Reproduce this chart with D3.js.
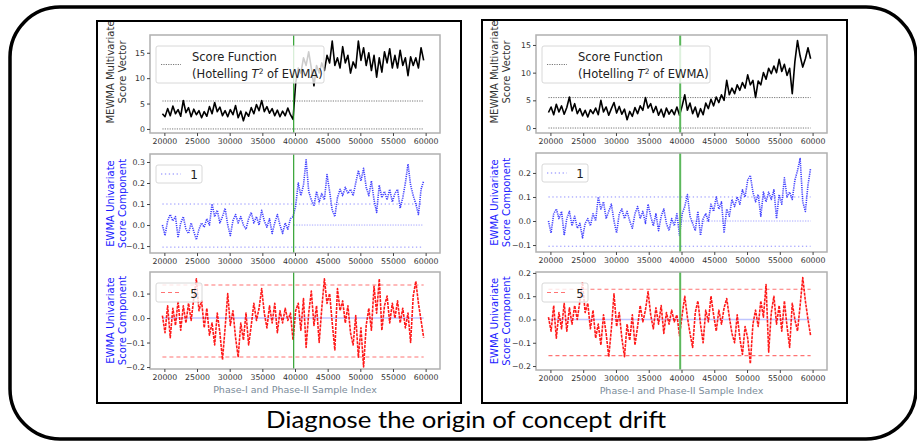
<!DOCTYPE html>
<html>
<head>
<meta charset="utf-8">
<script src="https://cdn.jsdelivr.net/npm/d3@7"></script>
<style>
  body { margin: 0; background: #fff; }
  svg { display: block; }
  .tick text { font-family: "DejaVu Sans", sans-serif; fill: #333; }
  .tick line { stroke: #444; }
</style>
</head>
<body>
<script>
// sample index of the first point and spacing between points
const sampleStart = 19700;
const sampleStep = 400;
const changePoint = 39800;

const xTicks = [20000, 25000, 30000, 35000, 40000, 45000, 50000, 55000, 60000];
const t2Ticks = [0, 5, 10, 15];
const comp1TicksLeft = [-0.1, 0.0, 0.1, 0.2, 0.3];
const comp1TicksRight = [-0.1, 0.0, 0.1, 0.2];
const comp5TicksLeft = [-0.2, -0.1, 0.0, 0.1];
const comp5TicksRight = [-0.2, -0.1, 0.0, 0.1, 0.2];

// control limits
const t2Limits = [0, 5.5];
const comp1Limits = [-0.105, 0.1];
const comp5LimitsLeft = [-0.159, 0.135];
const comp5LimitsRight = [-0.155, 0.13];

// MEWMA score (Hotelling T^2 of EWMA)
const leftT2 = [3.0, 2.4, 4.0, 2.6, 4.5, 3.0, 3.8, 2.5, 5.6, 3.2, 4.2, 2.4, 3.9, 2.8, 3.6, 2.2, 3.4, 2.5, 4.4, 3.0,
  5.2, 3.4, 4.3, 2.6, 3.6, 2.4, 3.8, 2.8, 4.6, 2.2, 3.5, 1.6, 3.3, 2.5, 4.2, 3.0, 4.8, 3.6, 5.6, 3.4,
  4.4, 3.1, 4.0, 2.6, 3.7, 2.4, 3.5, 2.6, 4.1, 2.8, 1.9,
  9.0, 12.0, 11.0, 14.0, 12.5, 15.2, 12.0, 8.5, 12.5, 11.0, 13.0, 11.5, 14.5, 13.0, 17.3, 12.5, 14.0, 12.0, 16.2, 13.0,
  14.5, 11.0, 13.2, 12.0, 17.3, 13.5, 16.0, 12.5, 15.0, 11.5, 14.5, 10.2, 14.0, 11.2, 15.2, 13.0, 15.8, 12.0, 14.5, 12.0,
  15.5, 12.5, 14.0, 10.5, 14.2, 12.5, 14.0, 12.0, 16.0, 13.5];
const rightT2 = [2.8, 3.8, 2.4, 4.3, 2.9, 4.0, 2.5, 3.7, 5.6, 3.1, 4.4, 2.6, 3.5, 2.2, 3.2, 2.0, 3.3, 2.6, 3.6, 2.4,
  5.0, 2.9, 3.8, 2.3, 3.5, 4.6, 2.7, 3.9, 2.5, 3.4, 1.5, 3.0, 2.1, 3.7, 2.6, 4.0, 3.2, 5.5, 3.6, 4.4,
  2.8, 3.9, 2.3, 3.4, 2.0, 3.6, 2.5, 3.3, 2.4, 3.8, 2.3,
  4.0, 6.0, 3.2, 4.5, 2.6, 3.8, 2.0, 3.5, 2.4, 4.5, 3.5, 5.2, 4.0, 5.6, 4.6, 6.0, 5.0, 8.6, 6.0, 7.2,
  6.2, 7.8, 6.8, 8.2, 7.2, 9.6, 7.8, 8.6, 5.5, 8.5, 7.8, 10.0, 8.8, 10.8, 9.8, 11.2, 10.0, 12.4, 10.2, 11.5,
  9.5, 10.8, 6.2, 12.0, 15.8, 13.0, 11.0, 12.5, 14.5, 12.5];

// EWMA univariate score, component 1
const leftComp1 = [0.00, -0.05, 0.02, 0.05, 0.02, 0.04, -0.06, 0.01, 0.04, -0.02, -0.04, 0.01, -0.03, -0.07, -0.02, 0.01, -0.01, 0.03, 0.00, 0.10,
  0.04, 0.07, 0.01, 0.04, 0.08, 0.00, -0.05, 0.02, 0.05, 0.01, 0.04, 0.00, -0.02, 0.03, 0.06, 0.01, 0.04, 0.00, 0.07, 0.02,
  -0.01, 0.03, -0.04, 0.01, 0.05, 0.00, -0.04, 0.01, -0.02, 0.03, 0.04,
  0.09, 0.20, 0.14, 0.19, 0.31, 0.16, 0.12, 0.09, 0.16, 0.11, 0.15, 0.12, 0.24, 0.16, 0.07, 0.04, 0.13, 0.17, 0.14, 0.18,
  0.15, 0.17, 0.14, 0.20, 0.26, 0.21, 0.27, 0.18, 0.14, 0.21, 0.12, 0.06, 0.19, 0.13, 0.16, 0.12, 0.17, 0.11, 0.15, 0.17,
  0.08, 0.13, 0.20, 0.29, 0.19, 0.14, 0.10, 0.05, 0.17, 0.21];
const rightComp1 = [0.00, -0.05, 0.03, 0.05, 0.01, 0.04, -0.06, 0.01, 0.04, -0.02, 0.02, -0.03, -0.01, -0.07, -0.01, 0.01, -0.02, 0.03, 0.00, 0.10,
  0.05, 0.08, 0.01, 0.04, 0.07, 0.00, -0.05, 0.03, 0.05, 0.01, 0.04, 0.00, -0.03, 0.03, 0.06, 0.01, 0.04, -0.01, 0.07, 0.02,
  -0.02, 0.03, -0.04, 0.02, 0.05, -0.01, -0.04, 0.01, -0.02, 0.03, -0.06,
  0.03, 0.06, 0.11, 0.02, -0.01, -0.04, 0.04, -0.06, 0.01, 0.03, 0.00, 0.07, 0.04, 0.10, 0.05, 0.08, -0.05, 0.05, 0.02, 0.09,
  0.06, 0.10, 0.07, 0.13, 0.10, 0.17, 0.19, 0.12, 0.08, 0.11, 0.02, 0.12, 0.08, 0.12, 0.09, 0.13, 0.01, 0.11, 0.07, 0.18,
  0.10, 0.12, 0.09, 0.17, 0.21, 0.26, 0.08, 0.04, 0.15, 0.22];

// EWMA univariate score, component 5
const leftComp5 = [0.01, -0.06, 0.05, -0.08, 0.04, -0.03, 0.07, -0.05, 0.05, -0.02, 0.06, -0.01, 0.08, 0.16, 0.03, 0.07, -0.04, 0.04, -0.07, -0.02,
  -0.11, 0.02, -0.06, -0.17, -0.04, 0.10, -0.03, 0.03, -0.08, -0.16, -0.02, -0.09, 0.02, -0.11, -0.03, 0.06, -0.01, 0.04, 0.12, 0.02,
  -0.04, 0.05, -0.02, 0.06, -0.06, 0.03, -0.02, 0.04, -0.01, 0.02, -0.09,
  0.03, 0.06, -0.05, 0.08, -0.12, 0.02, 0.11, -0.03, 0.05, -0.10, 0.04, 0.16, 0.06, 0.10, -0.02, -0.13, 0.12, 0.03, 0.07, -0.02,
  0.05, -0.06, -0.11, 0.01, -0.16, -0.04, -0.20, -0.03, 0.04, -0.05, 0.13, 0.02, 0.16, -0.05, 0.05, 0.09, -0.02, 0.06, 0.00, 0.07,
  -0.02, 0.04, -0.04, 0.02, -0.10, 0.09, 0.15, 0.06, -0.01, -0.08];
const rightComp5 = [0.01, -0.05, 0.06, -0.08, 0.03, -0.04, 0.07, -0.05, 0.05, -0.02, 0.06, 0.00, 0.08, 0.16, 0.03, 0.07, -0.04, 0.04, -0.08, -0.02,
  -0.11, 0.02, -0.06, -0.16, -0.04, 0.11, -0.03, 0.03, -0.08, -0.16, -0.02, -0.09, 0.02, -0.11, -0.03, 0.06, -0.01, 0.04, 0.12, 0.02,
  -0.04, 0.05, -0.02, 0.06, -0.06, 0.03, -0.02, 0.04, -0.01, 0.02, -0.07,
  0.02, 0.10, 0.01, -0.06, -0.12, 0.03, 0.08, -0.02, -0.10, 0.04, -0.01, 0.10, 0.02, -0.05, 0.04, -0.02, 0.05, 0.09, 0.01, -0.06,
  -0.10, 0.02, -0.08, -0.15, -0.03, -0.08, -0.19, -0.02, 0.04, -0.03, 0.08, 0.01, 0.15, -0.14, 0.03, 0.10, -0.02, 0.06, -0.05, 0.08,
  -0.03, -0.12, 0.07, 0.00, -0.05, 0.06, 0.18, 0.08, 0.00, -0.07];

const W = 917, H = 442;
const svg = d3.select("body").append("svg")
    .attr("width", W)
    .attr("height", H);

svg.append("rect").attr("width", W).attr("height", H).attr("fill", "#fff");

// outer rounded frame of the slide
svg.append("rect")
    .attr("x", 10).attr("y", 7)
    .attr("width", 906).attr("height", 432)
    .attr("rx", 50).attr("ry", 50)
    .attr("fill", "none")
    .attr("stroke", "#000")
    .attr("stroke-width", 3.5);

svg.append("text")
    .attr("x", 466).attr("y", 428)
    .attr("text-anchor", "middle")
    .attr("font-family", "Lato, 'Open Sans', sans-serif")
    .attr("font-size", 23)
    .attr("textLength", 400)
    .attr("lengthAdjust", "spacingAndGlyphs")
    .text("Diagnose the origin of concept drift");

const panels = [
  {box: [97, 21, 364, 382], x0: 150, x1: 440, green: "#1f9a1f", greenW: 1.1,
   t2: leftT2, t2Dom: [-0.8, 18.5], rows: [[35, 133], [154, 253], [272, 369]],
   c1: leftComp1, c1Dom: [-0.133, 0.338], c1Ticks: comp1TicksLeft,
   c5: leftComp5, c5Dom: [-0.208, 0.188], c5Ticks: comp5TicksLeft, c5Lim: comp5LimitsLeft,
   ylabX: [110, 122]},
  {box: [482, 20, 365, 383], x0: 536, x1: 827, green: "#5cb85c", greenW: 2,
   t2: rightT2, t2Dom: [-0.9, 16.8], rows: [[35, 133], [153, 252], [272, 370]],
   c1: rightComp1, c1Dom: [-0.129, 0.283], c1Ticks: comp1TicksRight,
   c5: rightComp5, c5Dom: [-0.217, 0.204], c5Ticks: comp5TicksRight, c5Lim: comp5LimitsRight,
   ylabX: [494, 506]}
];

const idx = i => sampleStart + i * sampleStep;

function subplot(p, row, cfg) {
  const [top, bottom] = p.rows[row];
  const x = d3.scaleLinear().domain([17800, 62200]).range([p.x0, p.x1]);
  const y = d3.scaleLinear().domain(cfg.domain).range([bottom, top]);
  const g = svg.append("g");

  g.append("rect")
      .attr("x", p.x0).attr("y", top)
      .attr("width", p.x1 - p.x0).attr("height", bottom - top)
      .attr("fill", "#fff");

  // limit lines
  cfg.limits.forEach(v => {
    g.append("line")
        .attr("x1", x(sampleStart)).attr("x2", x(idx(cfg.values.length - 1)))
        .attr("y1", y(v)).attr("y2", y(v))
        .attr("stroke", cfg.limColor)
        .attr("stroke-width", cfg.limWidth)
        .attr("stroke-opacity", cfg.limOpacity)
        .attr("stroke-dasharray", cfg.limDash);
  });
  if (cfg.center) {
    g.append("line")
        .attr("x1", x(cfg.center.from)).attr("x2", x(idx(cfg.values.length - 1)))
        .attr("y1", y(0)).attr("y2", y(0))
        .attr("stroke", cfg.center.color)
        .attr("stroke-width", cfg.center.width)
        .attr("stroke-opacity", cfg.center.opacity)
        .attr("stroke-dasharray", cfg.center.dash);
  }

  const line = d3.line().x((d, i) => x(idx(i))).y(d => y(d));
  g.append("path")
      .datum(cfg.values)
      .attr("d", line)
      .attr("fill", "none")
      .attr("stroke", cfg.color)
      .attr("stroke-width", cfg.width)
      .attr("stroke-opacity", cfg.opacity)
      .attr("stroke-dasharray", cfg.dash)
      .attr("stroke-linejoin", "round");

  // change point
  g.append("line")
      .attr("x1", x(changePoint)).attr("x2", x(changePoint))
      .attr("y1", top).attr("y2", bottom)
      .attr("stroke", p.green)
      .attr("stroke-width", p.greenW);

  g.append("rect")
      .attr("x", p.x0).attr("y", top)
      .attr("width", p.x1 - p.x0).attr("height", bottom - top)
      .attr("fill", "none")
      .attr("stroke", "#b0b0b0")
      .attr("stroke-width", 1.5);

  g.append("g")
      .attr("transform", `translate(0,${bottom})`)
      .call(d3.axisBottom(x).tickValues(xTicks).tickSize(3).tickPadding(2).tickFormat(d3.format("d")))
      .call(a => a.select(".domain").remove())
      .call(a => a.selectAll("text").attr("font-size", 7.8));

  g.append("g")
      .attr("transform", `translate(${p.x0},0)`)
      .call(d3.axisLeft(y).tickValues(cfg.ticks).tickSize(3).tickPadding(2).tickFormat(cfg.fmt))
      .call(a => a.select(".domain").remove())
      .call(a => a.selectAll("text").attr("font-size", 7.8));

  // y label, two lines
  const cy = cfg.labelY !== undefined ? cfg.labelY : (top + bottom) / 2;
  cfg.label.forEach((t, k) => {
    g.append("text")
        .attr("transform", `translate(${p.ylabX[k]},${cy}) rotate(-90)`)
        .attr("text-anchor", "middle")
        .attr("dy", "0.35em")
        .attr("font-family", "DejaVu Sans, sans-serif")
        .attr("font-size", 10)
        .attr("fill", cfg.labelColor)
        .text(t);
  });

  // legend
  const lg = g.append("g").attr("transform", `translate(${p.x0 + 6},${top + cfg.legTop})`);
  lg.append("rect")
      .attr("width", cfg.legW).attr("height", cfg.legH)
      .attr("rx", 2)
      .attr("fill", "#fff").attr("fill-opacity", 0.8)
      .attr("stroke", "#d8d8d8").attr("stroke-width", 1);
  lg.append("line")
      .attr("x1", 5).attr("x2", 25)
      .attr("y1", cfg.legH / 2).attr("y2", cfg.legH / 2)
      .attr("stroke", cfg.legColor)
      .attr("stroke-width", cfg.legWidth)
      .attr("stroke-opacity", cfg.legOpacity)
      .attr("stroke-dasharray", cfg.legDash);
  cfg.legText(lg);

  if (cfg.xlabel) {
    g.append("text")
        .attr("x", (p.x0 + p.x1) / 2).attr("y", bottom + 24)
        .attr("text-anchor", "middle")
        .attr("font-family", "DejaVu Sans, sans-serif")
        .attr("font-size", 9.5)
        .attr("fill", "#7a8b99")
        .text(cfg.xlabel);
  }
}

const legFont = "DejaVu Sans, sans-serif";

panels.forEach(p => {
  subplot(p, 0, {
    values: p.t2, domain: p.t2Dom, ticks: t2Ticks, fmt: d3.format("d"),
    color: "#000", width: 1.6, opacity: 1, dash: null,
    limits: t2Limits, limColor: "#444", limWidth: 0.8, limOpacity: 0.9, limDash: "1.2,1.2",
    label: ["MEWMA Multivariate", "Score Vector"], labelColor: "#333", labelY: 72,
    legTop: 11, legW: 168, legH: 37,
    legColor: "#444", legWidth: 0.8, legOpacity: 0.9, legDash: "1.2,1.2",
    legText: lg => {
      lg.append("text").attr("x", 36).attr("y", 15)
          .attr("font-family", legFont).attr("font-size", 11.5).attr("fill", "#222")
          .text("Score Function");
      const t = lg.append("text").attr("x", 36).attr("y", 32)
          .attr("font-family", legFont).attr("font-size", 11.5).attr("fill", "#222");
      t.append("tspan").text("(Hotelling ");
      t.append("tspan").attr("font-style", "italic").text("T");
      t.append("tspan").attr("font-size", 7.5).attr("dy", -4.5).text("2");
      t.append("tspan").attr("dy", 4.5).text(" of EWMA)");
    }
  });

  subplot(p, 1, {
    values: p.c1, domain: p.c1Dom, ticks: p.c1Ticks, fmt: d3.format(".1f"),
    color: "#0000ff", width: 1.6, opacity: 0.75, dash: "1.2,1",
    limits: comp1Limits, limColor: "#0000ff", limWidth: 1, limOpacity: 0.45, limDash: "1.3,2.6",
    center: {from: changePoint, color: "#0000ff", width: 1, opacity: 0.35, dash: "1.3,1.3"},
    label: ["EWMA Univariate", "Score Component"], labelColor: "#1a1aff",
    legTop: 11, legW: 46, legH: 18,
    legColor: "#0000ff", legWidth: 1, legOpacity: 0.5, legDash: "1.3,2.6",
    legText: lg => {
      lg.append("text").attr("x", 38).attr("y", 14).attr("text-anchor", "middle")
          .attr("font-family", legFont).attr("font-size", 12).attr("fill", "#222")
          .text("1");
    }
  });

  subplot(p, 2, {
    values: p.c5, domain: p.c5Dom, ticks: p.c5Ticks, fmt: d3.format(".1f"),
    color: "#ff0000", width: 1.6, opacity: 0.9, dash: "3,1",
    limits: p.c5Lim, limColor: "#ff0000", limWidth: 1.2, limOpacity: 0.55, limDash: "4,3",
    center: {from: sampleStart, color: "#7f8cff", width: 1.6, opacity: 0.5, dash: null},
    label: ["EWMA Univariate", "Score Component"], labelColor: "#1a1aff",
    legTop: 11, legW: 46, legH: 19,
    legColor: "#ff0000", legWidth: 1.2, legOpacity: 0.55, legDash: "4,3",
    legText: lg => {
      lg.append("text").attr("x", 38).attr("y", 14.5).attr("text-anchor", "middle")
          .attr("font-family", legFont).attr("font-size", 12).attr("fill", "#222")
          .text("5");
    },
    xlabel: "Phase-I and Phase-II Sample Index"
  });

  svg.append("rect")
      .attr("x", p.box[0]).attr("y", p.box[1])
      .attr("width", p.box[2]).attr("height", p.box[3])
      .attr("fill", "none")
      .attr("stroke", "#000")
      .attr("stroke-width", 2);
});
</script>
</body>
</html>
